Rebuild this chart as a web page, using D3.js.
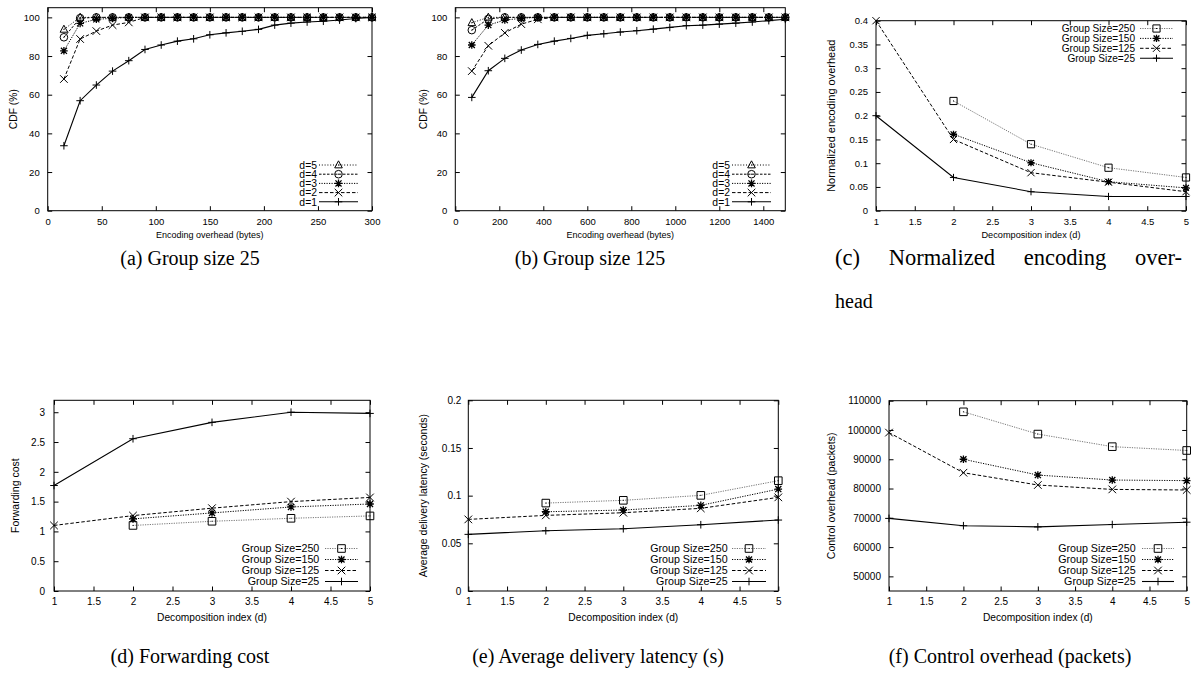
<!DOCTYPE html>
<html><head><meta charset="utf-8">
<script src="https://cdn.jsdelivr.net/npm/d3@7"></script>
<style>body{margin:0;background:#fff}</style>
</head><body><svg id="fig" width="1194" height="679"></svg>
<script>
// ================= DATA =================
const decompIdx = [1, 2, 3, 4, 5];
const decompTicks = [1, 1.5, 2, 2.5, 3, 3.5, 4, 4.5, 5];
const cdfTicks = [0, 20, 40, 60, 80, 100];

// (a) Group size 25 : CDF vs encoding overhead
const aTicks = [0, 50, 100, 150, 200, 250, 300];
const aBytes = [15, 30, 45, 60, 75, 90, 105, 120, 135, 150, 165, 180, 195, 210, 225, 240, 255, 270, 285, 300];
const aD1 = [33.6, 56.9, 65, 72.2, 77.6, 83.4, 85.7, 87.7, 88.9, 91, 92, 92.8, 93.8, 96, 97, 97.6, 98, 98.6, 99.4, 100];
const aD2 = [68.1, 88.8, 92.9, 96, 97.4, 100, 100, 100, 100, 100, 100, 100, 100, 100, 100, 100, 100, 100, 100, 100];
const aD3 = [82.7, 96.9, 99, 99.5, 100, 100, 100, 100, 100, 100, 100, 100, 100, 100, 100, 100, 100, 100, 100, 100];
const aD4 = [89.7, 99.6, 100, 100, 100, 100, 100, 100, 100, 100, 100, 100, 100, 100, 100, 100, 100, 100, 100, 100];
const aD5 = [93.8, 100, 100, 100, 100, 100, 100, 100, 100, 100, 100, 100, 100, 100, 100, 100, 100, 100, 100, 100];

// (b) Group size 125
const bTicks = [0, 200, 400, 600, 800, 1000, 1200, 1400];
const bBytes = [75, 150, 225, 300, 375, 450, 525, 600, 675, 750, 825, 900, 975, 1050, 1125, 1200, 1275, 1350, 1425, 1500];
const bD1 = [58.6, 72.4, 78.8, 83.1, 86, 87.7, 89.1, 90.7, 91.5, 92.4, 93.1, 93.9, 94.8, 95.7, 96, 96.5, 97, 97.6, 98.3, 99];
const bD2 = [72.2, 85.3, 92, 96.5, 99, 100, 100, 100, 100, 100, 100, 100, 100, 100, 100, 100, 100, 100, 100, 100];
const bD3 = [85.7, 96, 98.6, 99.5, 100, 100, 100, 100, 100, 100, 100, 100, 100, 100, 100, 100, 100, 100, 100, 100];
const bD4 = [93.4, 99.2, 100, 100, 100, 100, 100, 100, 100, 100, 100, 100, 100, 100, 100, 100, 100, 100, 100, 100];
const bD5 = [97.2, 100, 100, 100, 100, 100, 100, 100, 100, 100, 100, 100, 100, 100, 100, 100, 100, 100, 100, 100];

// (c) Normalized encoding overhead
const normTicks = [0, 0.05, 0.1, 0.15, 0.2, 0.25, 0.3, 0.35, 0.4];
const normGS250 = [null, 0.231, 0.140, 0.0905, 0.070];
const normGS150 = [null, 0.161, 0.101, 0.061, 0.048];
const normGS125 = [0.40, 0.150, 0.080, 0.060, 0.040];
const normGS25  = [0.20, 0.070, 0.040, 0.030, 0.030];

// (d) Forwarding cost
const fwdTicks = [0, 0.5, 1, 1.5, 2, 2.5, 3];
const fwdGS250 = [null, 1.10, 1.17, 1.22, 1.26];
const fwdGS150 = [null, 1.21, 1.31, 1.41, 1.46];
const fwdGS125 = [1.10, 1.265, 1.39, 1.50, 1.57];
const fwdGS25  = [1.77, 2.555, 2.83, 3.00, 2.98];

// (e) Average delivery latency (seconds)
const latTicks = [0, 0.05, 0.1, 0.15, 0.2];
const latGS250 = [null, 0.0922, 0.0951, 0.1003, 0.1157];
const latGS150 = [null, 0.0831, 0.0849, 0.0898, 0.1069];
const latGS125 = [0.0751, 0.0793, 0.0821, 0.0867, 0.0982];
const latGS25  = [0.0594, 0.0632, 0.0653, 0.0695, 0.0744];

// (f) Control overhead (packets)
const ctrlTicks = [50000, 60000, 70000, 80000, 90000, 100000, 110000];
const ctrlGS250 = [null, 106200, 98600, 94300, 93000];
const ctrlGS150 = [null, 90000, 84600, 82900, 82700];
const ctrlGS125 = [99100, 85400, 81200, 79700, 79500];
const ctrlGS25  = [69800, 67300, 66900, 67700, 68500];

const dLabels = ["d=5", "d=4", "d=3", "d=2", "d=1"];
const gsLabels = ["Group Size=250", "Group Size=150", "Group Size=125", "Group Size=25"];

// ================= DRAWING =================
const SANS = "'Liberation Sans', Arial, Helvetica, sans-serif";
const SERIF = "'Liberation Serif', 'Times New Roman', serif";
const svg = d3.select('#fig');
svg.append('rect').attr('width', 1194).attr('height', 679).attr('fill', '#fff');

const LS = {
  solid:   {dash: null,        color: '#000', w: 1.1},
  dashed:  {dash: '3.5,2',     color: '#000', w: 1},
  dashdot: {dash: '2.5,1.5',   color: '#000', w: 1},
  dotted:  {dash: '1.2,1.3',   color: '#000', w: 1},
  fine:    {dash: '1,1.8',     color: '#000', w: 1},
  gray:    {dash: '1.2,1.2',   color: '#777', w: 1}
};

function drawMarker(g, type, cx, cy, s) {
  const p = d3.path();
  const dot = () => { p.moveTo(cx - 0.5, cy); p.lineTo(cx + 0.5, cy); };
  if (type === 'plus' || type === 'star') {
    p.moveTo(cx - s, cy); p.lineTo(cx + s, cy);
    p.moveTo(cx, cy - s); p.lineTo(cx, cy + s);
  }
  if (type === 'cross' || type === 'star') {
    const k = type === 'star' ? s * 0.8 : s;
    p.moveTo(cx - k, cy - k); p.lineTo(cx + k, cy + k);
    p.moveTo(cx - k, cy + k); p.lineTo(cx + k, cy - k);
  }
  if (type === 'square') {
    p.rect(cx - s, cy - s, 2 * s, 2 * s); dot();
  }
  if (type === 'circle') {
    p.moveTo(cx + s, cy); p.arc(cx, cy, s, 0, 2 * Math.PI); dot();
  }
  if (type === 'triangle') {
    p.moveTo(cx, cy - s * 1.1); p.lineTo(cx + s, cy + s * 0.75); p.lineTo(cx - s, cy + s * 0.75); p.closePath(); dot();
  }
  g.append('path').attr('d', p.toString()).attr('fill', 'none')
    .attr('stroke', '#000').attr('stroke-width', type === 'star' ? 1.3 : 1);
}

const fmtNum = v => String(+v.toFixed(3));

function panel(cfg) {
  const x = d3.scaleLinear().domain(cfg.xDomain).range([cfg.left, cfg.right]);
  const y = d3.scaleLinear().domain(cfg.yDomain).range([cfg.bottom, cfg.top]);
  const g = svg.append('g');
  const T = 4.5;

  const ax = (sel) => {
    sel.select('.domain').remove();
    sel.selectAll('text').attr('font-size', cfg.tickSize).attr('font-family', SANS).attr('fill', '#000');
    sel.selectAll('line').attr('stroke', '#000');
  };
  g.append('g').attr('transform', `translate(0,${cfg.bottom})`)
    .call(d3.axisBottom(x).tickValues(cfg.xTicks).tickFormat(fmtNum).tickSizeInner(-T).tickSizeOuter(0).tickPadding(cfg.xPad)).call(ax);
  g.append('g').attr('transform', `translate(0,${cfg.top})`)
    .call(d3.axisTop(x).tickValues(cfg.xTicks).tickFormat('').tickSizeInner(-T).tickSizeOuter(0)).call(ax);
  g.append('g').attr('transform', `translate(${cfg.left},0)`)
    .call(d3.axisLeft(y).tickValues(cfg.yTicks).tickFormat(fmtNum).tickSizeInner(-T).tickSizeOuter(0).tickPadding(cfg.yPad)).call(ax);
  g.append('g').attr('transform', `translate(${cfg.right},0)`)
    .call(d3.axisRight(y).tickValues(cfg.yTicks).tickFormat('').tickSizeInner(-T).tickSizeOuter(0)).call(ax);

  g.append('rect').attr('x', cfg.left).attr('y', cfg.top)
    .attr('width', cfg.right - cfg.left).attr('height', cfg.bottom - cfg.top)
    .attr('fill', 'none').attr('stroke', '#000').attr('stroke-width', 1);

  const line = d3.line().defined(d => d[1] != null).x(d => x(d[0])).y(d => y(d[1]));
  cfg.series.forEach(s => {
    const pts = s.xs.map((v, i) => [v, s.ys[i]]);
    const st = LS[s.style];
    g.append('path').attr('d', line(pts)).attr('fill', 'none')
      .attr('stroke', st.color).attr('stroke-width', st.w)
      .attr('stroke-dasharray', st.dash);
    pts.filter(d => d[1] != null).forEach(d => drawMarker(g, s.marker, x(d[0]), y(d[1]), cfg.ms));
  });

  // legend
  const L = cfg.legend;
  cfg.series.forEach((s, i) => {
    const ry = L.rows[i];
    const st = LS[s.style];
    g.append('text').attr('x', L.textEnd).attr('y', ry).attr('dy', '0.36em')
      .attr('text-anchor', 'end').attr('font-size', L.size).attr('font-family', SANS).text(s.label);
    g.append('line').attr('x1', L.x1).attr('x2', L.x2).attr('y1', ry).attr('y2', ry)
      .attr('stroke', st.color).attr('stroke-width', st.w).attr('stroke-dasharray', st.dash);
    drawMarker(g, s.marker, (L.x1 + L.x2) / 2, ry, cfg.ms);
  });

  // axis labels
  g.append('text').attr('x', (cfg.left + cfg.right) / 2).attr('y', cfg.xLabelY)
    .attr('text-anchor', 'middle').attr('font-size', cfg.xLabelSize).attr('font-family', SANS).text(cfg.xLabel);
  const cy = (cfg.top + cfg.bottom) / 2;
  g.append('text').attr('transform', `translate(${cfg.yLabelX},${cy}) rotate(-90)`).attr('dy', '0.35em')
    .attr('text-anchor', 'middle').attr('font-size', cfg.yLabelSize).attr('font-family', SANS).text(cfg.yLabel);
}

const topRowRows = [165, 174.2, 183.4, 192.6, 201.8];

panel({
  left: 47.7, right: 372, top: 7.7, bottom: 210.7,
  xDomain: [0, 300], yDomain: [0, 105], xTicks: aTicks, yTicks: cdfTicks,
  tickSize: 9.5, xPad: 8, yPad: 8, ms: 3.8,
  xLabel: 'Encoding overhead (bytes)', xLabelY: 237.5, xLabelSize: 9,
  yLabel: 'CDF (%)', yLabelX: 13, yLabelSize: 10.3,
  series: [
    {xs: aBytes, ys: aD5, style: 'fine', marker: 'triangle', label: dLabels[0]},
    {xs: aBytes, ys: aD4, style: 'dashdot', marker: 'circle', label: dLabels[1]},
    {xs: aBytes, ys: aD3, style: 'dotted', marker: 'star', label: dLabels[2]},
    {xs: aBytes, ys: aD2, style: 'dashed', marker: 'cross', label: dLabels[3]},
    {xs: aBytes, ys: aD1, style: 'solid', marker: 'plus', label: dLabels[4]}
  ],
  legend: {textEnd: 317, x1: 319, x2: 358, rows: topRowRows, size: 10.4}
});

panel({
  left: 455.3, right: 785.3, top: 7.7, bottom: 210.7,
  xDomain: [0, 1500], yDomain: [0, 105], xTicks: bTicks, yTicks: cdfTicks,
  tickSize: 9.5, xPad: 8, yPad: 8, ms: 3.8,
  xLabel: 'Encoding overhead (bytes)', xLabelY: 237.5, xLabelSize: 9,
  yLabel: 'CDF (%)', yLabelX: 423, yLabelSize: 10.3,
  series: [
    {xs: bBytes, ys: bD5, style: 'fine', marker: 'triangle', label: dLabels[0]},
    {xs: bBytes, ys: bD4, style: 'dashdot', marker: 'circle', label: dLabels[1]},
    {xs: bBytes, ys: bD3, style: 'dotted', marker: 'star', label: dLabels[2]},
    {xs: bBytes, ys: bD2, style: 'dashed', marker: 'cross', label: dLabels[3]},
    {xs: bBytes, ys: bD1, style: 'solid', marker: 'plus', label: dLabels[4]}
  ],
  legend: {textEnd: 730, x1: 732, x2: 771, rows: topRowRows, size: 10.4}
});

panel({
  left: 876, right: 1186, top: 20.7, bottom: 210.7,
  xDomain: [1, 5], yDomain: [0, 0.4], xTicks: decompTicks, yTicks: normTicks,
  tickSize: 9.5, xPad: 8, yPad: 8, ms: 3.6,
  xLabel: 'Decomposition index (d)', xLabelY: 237.5, xLabelSize: 9.2,
  yLabel: 'Normalized encoding overhead', yLabelX: 831, yLabelSize: 11,
  series: [
    {xs: decompIdx, ys: normGS250, style: 'gray', marker: 'square', label: gsLabels[0]},
    {xs: decompIdx, ys: normGS150, style: 'dotted', marker: 'star', label: gsLabels[1]},
    {xs: decompIdx, ys: normGS125, style: 'dashed', marker: 'cross', label: gsLabels[2]},
    {xs: decompIdx, ys: normGS25, style: 'solid', marker: 'plus', label: gsLabels[3]}
  ],
  legend: {textEnd: 1135, x1: 1140, x2: 1173, rows: [28.5, 38.4, 48.3, 58.2], size: 10.1}
});

const botRows = [548.5, 559.5, 570.5, 581.5];

panel({
  left: 54, right: 370, top: 400.3, bottom: 591,
  xDomain: [1, 5], yDomain: [0, 3.2], xTicks: decompTicks, yTicks: fwdTicks,
  tickSize: 10, xPad: 7, yPad: 9, ms: 3.8,
  xLabel: 'Decomposition index (d)', xLabelY: 620.5, xLabelSize: 10.2,
  yLabel: 'Forwarding cost', yLabelX: 15, yLabelSize: 10.5,
  series: [
    {xs: decompIdx, ys: fwdGS250, style: 'gray', marker: 'square', label: gsLabels[0]},
    {xs: decompIdx, ys: fwdGS150, style: 'dotted', marker: 'star', label: gsLabels[1]},
    {xs: decompIdx, ys: fwdGS125, style: 'dashed', marker: 'cross', label: gsLabels[2]},
    {xs: decompIdx, ys: fwdGS25, style: 'solid', marker: 'plus', label: gsLabels[3]}
  ],
  legend: {textEnd: 319.3, x1: 325, x2: 358, rows: botRows, size: 10.7}
});

panel({
  left: 468.3, right: 778.3, top: 400.3, bottom: 591,
  xDomain: [1, 5], yDomain: [0, 0.2], xTicks: decompTicks, yTicks: latTicks,
  tickSize: 10, xPad: 7, yPad: 7, ms: 3.8,
  xLabel: 'Decomposition index (d)', xLabelY: 620.5, xLabelSize: 10.2,
  yLabel: 'Average delivery latency (seconds)', yLabelX: 423.5, yLabelSize: 10.5,
  series: [
    {xs: decompIdx, ys: latGS250, style: 'gray', marker: 'square', label: gsLabels[0]},
    {xs: decompIdx, ys: latGS150, style: 'dotted', marker: 'star', label: gsLabels[1]},
    {xs: decompIdx, ys: latGS125, style: 'dashed', marker: 'cross', label: gsLabels[2]},
    {xs: decompIdx, ys: latGS25, style: 'solid', marker: 'plus', label: gsLabels[3]}
  ],
  legend: {textEnd: 727.7, x1: 732, x2: 766, rows: botRows, size: 10.7}
});

panel({
  left: 889, right: 1186.7, top: 400.7, bottom: 591,
  xDomain: [1, 5], yDomain: [45000, 110000], xTicks: decompTicks, yTicks: ctrlTicks,
  tickSize: 10, xPad: 7, yPad: 8, ms: 3.8,
  xLabel: 'Decomposition index (d)', xLabelY: 620.5, xLabelSize: 10.2,
  yLabel: 'Control overhead (packets)', yLabelX: 831.5, yLabelSize: 10.5,
  series: [
    {xs: decompIdx, ys: ctrlGS250, style: 'gray', marker: 'square', label: gsLabels[0]},
    {xs: decompIdx, ys: ctrlGS150, style: 'dotted', marker: 'star', label: gsLabels[1]},
    {xs: decompIdx, ys: ctrlGS125, style: 'dashed', marker: 'cross', label: gsLabels[2]},
    {xs: decompIdx, ys: ctrlGS25, style: 'solid', marker: 'plus', label: gsLabels[3]}
  ],
  legend: {textEnd: 1135.7, x1: 1142, x2: 1174, rows: botRows, size: 10.7}
});

// captions
function caption(text, x, y, anchor, size) {
  return svg.append('text').attr('x', x).attr('y', y).attr('text-anchor', anchor || 'middle')
    .attr('font-size', size || 20).attr('font-family', SERIF).attr('fill', '#000').text(text);
}
caption('(a) Group size 25', 190, 265);
caption('(b) Group size 125', 590, 265);
const cc = caption('(c) Normalized encoding over-', 835, 265, 'start', 22.5);
const w0 = cc.node().getComputedTextLength();
cc.attr('word-spacing', Math.max(0, (347 - w0) / 3));
caption('head', 835, 308, 'start');
caption('(d) Forwarding cost', 190, 663);
caption('(e) Average delivery latency (s)', 598, 663);
caption('(f) Control overhead (packets)', 1010, 663);
</script></body></html>
